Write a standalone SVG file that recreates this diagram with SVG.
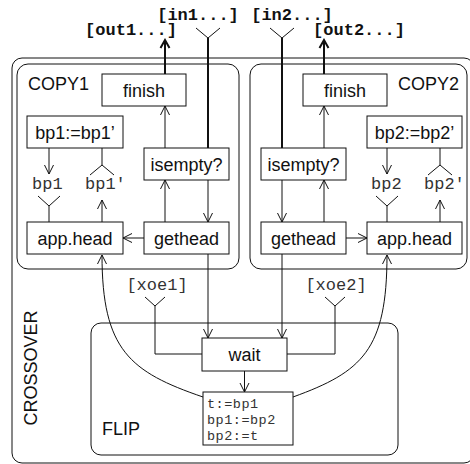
<svg xmlns="http://www.w3.org/2000/svg" width="470" height="464" viewBox="0 0 470 464">
<defs>
<marker id="a" viewBox="-11 -6 13 12" refX="0" refY="0" markerWidth="13" markerHeight="12" orient="auto" markerUnits="userSpaceOnUse"><path d="M-9,-4.5 L0,0 L-9,4.5" fill="none" stroke="#111" stroke-width="1"/></marker>
<marker id="b" viewBox="-11 -6 13 12" refX="0" refY="0" markerWidth="13" markerHeight="12" orient="auto" markerUnits="userSpaceOnUse"><path d="M-8,-4.5 L0,0 L-8,4.5" fill="none" stroke="#111" stroke-width="2"/></marker>
<style>
.box{fill:#fff;stroke:#111;stroke-width:1}
.grp{fill:none;stroke:#111;stroke-width:1}
.ln{fill:none;stroke:#111;stroke-width:1}
.ar{fill:none;stroke:#111;stroke-width:1;marker-end:url(#a)}
.th{fill:none;stroke:#111;stroke-width:2}
.tha{fill:none;stroke:#111;stroke-width:2;marker-end:url(#b)}
.t{font-family:"Liberation Sans",Arial,sans-serif;font-size:18px;fill:#111;text-anchor:middle}
.lb{font-family:"Liberation Sans",Arial,sans-serif;font-size:18px;fill:#111}
.m{font-family:"Liberation Mono","Courier New",monospace;font-size:17px;fill:#333}
.mb{font-family:"Liberation Mono","Courier New",monospace;font-size:17px;font-weight:bold;fill:#111;text-anchor:middle}
.ms{font-family:"Liberation Mono","Courier New",monospace;font-size:13.5px;letter-spacing:0.5px;fill:#333}
</style>
</defs>

<g id="crossover">
<rect class="grp" x="12" y="58" width="462" height="405" rx="10"/>
<text class="lb" transform="translate(37,368) rotate(-90)" text-anchor="middle">CROSSOVER</text>
</g>
<g id="copy1">
<rect class="grp" x="17" y="64" width="222" height="205" rx="11"/>
<text class="lb" x="28" y="90">COPY1</text>
</g>
<g id="copy2">
<rect class="grp" x="250" y="64" width="217" height="205" rx="11"/>
<text class="lb" x="398" y="90">COPY2</text>
</g>
<g id="flip">
<rect class="grp" x="91" y="323" width="307" height="132" rx="10"/>
<text class="lb" x="102" y="435">FLIP</text>
</g>

<g id="connectors">
<path class="tha" d="M165,74 V40"/>
<path class="ln" d="M196,28 L208,38 L220,28"/>
<path class="th" d="M208,38 V148"/>
<path class="tha" d="M324,74 V40"/>
<path class="ln" d="M270,28 L282,38 L294,28"/>
<path class="th" d="M282,38 V148"/>
<path class="ar" d="M165,148 V106"/>
<path class="ar" d="M165,222 V180"/>
<path class="ar" d="M208,180 V222"/>
<path class="ar" d="M144,238 H123"/>
<path class="ar" d="M49,148 V174"/>
<path class="ln" d="M102,148 V165 M90,175 L102,165 L114,175"/>
<path class="ln" d="M38,196 L49,206 L60,196 M49,206 V222"/>
<path class="ar" d="M102,222 V200"/>
<path class="ar" d="M324,148 V106"/>
<path class="ar" d="M324,222 V180"/>
<path class="ar" d="M282,180 V222"/>
<path class="ar" d="M346,238 H367"/>
<path class="ar" d="M387,148 V174"/>
<path class="ln" d="M440,148 V165 M428,175 L440,165 L452,175"/>
<path class="ln" d="M376,196 L387,206 L398,196 M387,206 V222"/>
<path class="ar" d="M440,222 V200"/>
<path class="ar" d="M208,254 V338"/>
<path class="ar" d="M282,254 V338"/>
<path class="ln" d="M145,297 L155,306 L165,297 M155,306 V354 H202"/>
<path class="ln" d="M325,297 L335,306 L345,297 M335,306 V354 H287"/>
<path class="ar" d="M244.5,371 V392"/>
<path class="ar" d="M203,397 C130,372 102,350 102,255"/>
<path class="ar" d="M293,397 C362,372 387,350 387,255"/>
</g>

<g id="ext-labels">
<text class="mb" x="198" y="20">[in1...]</text>
<text class="mb" x="131" y="35">[out1...]</text>
<text class="mb" x="292" y="20">[in2...]</text>
<text class="mb" x="359" y="35">[out2...]</text>
</g>

<g id="finish1"><rect class="box" x="102" y="74" width="84" height="32"/><text class="t" x="144" y="96.5">finish</text></g>
<g id="assign1"><rect class="box" x="27" y="116" width="96" height="32"/><text class="t" x="75" y="138.5">bp1:=bp1’</text></g>
<g id="isempty1"><rect class="box" x="144" y="148" width="85" height="32"/><text class="t" x="186.5" y="170.5">isempty?</text></g>
<g id="apphead1"><rect class="box" x="27" y="222" width="96" height="32"/><text class="t" x="75" y="244.5">app.head</text></g>
<g id="gethead1"><rect class="box" x="144" y="222" width="85" height="32"/><text class="t" x="186.5" y="244.5">gethead</text></g>
<g id="bp1"><text class="m" x="32" y="189">bp1</text></g>
<g id="bp1p"><text class="m" x="85" y="189">bp1'</text></g>

<g id="finish2"><rect class="box" x="303" y="74" width="84" height="32"/><text class="t" x="345" y="96.5">finish</text></g>
<g id="assign2"><rect class="box" x="367" y="116" width="95" height="32"/><text class="t" x="414.5" y="138.5">bp2:=bp2’</text></g>
<g id="isempty2"><rect class="box" x="261" y="148" width="85" height="32"/><text class="t" x="303.5" y="170.5">isempty?</text></g>
<g id="gethead2"><rect class="box" x="261" y="222" width="85" height="32"/><text class="t" x="303.5" y="244.5">gethead</text></g>
<g id="apphead2"><rect class="box" x="367" y="222" width="95" height="32"/><text class="t" x="414.5" y="244.5">app.head</text></g>
<g id="bp2"><text class="m" x="371" y="189">bp2</text></g>
<g id="bp2p"><text class="m" x="424" y="189">bp2'</text></g>

<g id="xoe1"><text class="m" x="157" y="290" text-anchor="middle">[xoe1]</text></g>
<g id="xoe2"><text class="m" x="336" y="290" text-anchor="middle">[xoe2]</text></g>

<g id="wait"><rect class="box" x="202" y="338" width="85" height="33"/><text class="t" x="244.5" y="361">wait</text></g>
<g id="swap"><rect class="box" x="203" y="392" width="90" height="53"/>
<text class="ms" x="207" y="408">t:=bp1</text>
<text class="ms" x="207" y="424">bp1:=bp2</text>
<text class="ms" x="207" y="440">bp2:=t</text></g>
</svg>
